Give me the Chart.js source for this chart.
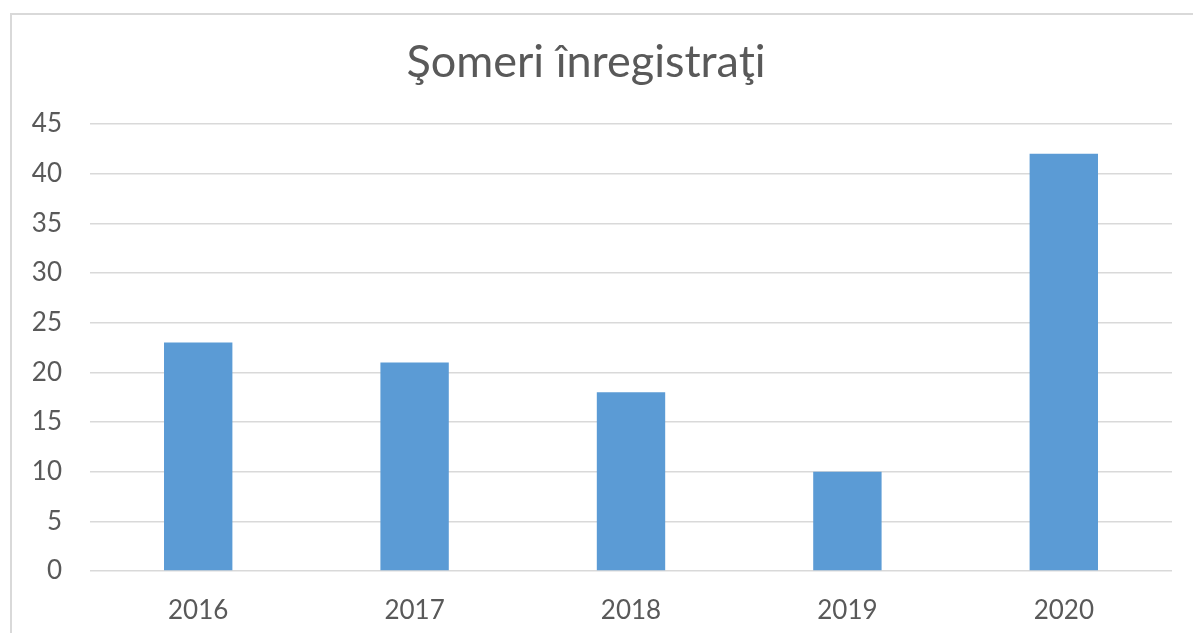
<!DOCTYPE html>
<html lang="ro">
<head>
    <meta charset="UTF-8">
    <title>Şomeri înregistraţi</title>
    <script src="https://cdn.jsdelivr.net/npm/chart.js@4.4.1/dist/chart.umd.min.js"></script>
    <style>
        html, body {
            margin: 0;
            padding: 0;
            width: 1193px;
            height: 633px;
            overflow: hidden;
            background: #ffffff;
        }
        .frame {
            position: absolute;
            left: 10px;
            top: 13px;
            width: 1200px;
            height: 640px;
            border: 2px solid #d9d9d9;
        }
        .chart-box {
            position: absolute;
            left: 0;
            top: 0;
            width: 1193px;
            height: 633px;
        }
    </style>
</head>
<body>
    <div class="frame"></div>
    <div class="chart-box">
        <canvas id="barChart"></canvas>
    </div>

    <script>
        // data
        const years = ['2016', '2017', '2018', '2019', '2020'];
        const unemployed = [23, 21, 18, 10, 42];
        const yTicks = [0, 5, 10, 15, 20, 25, 30, 35, 40, 45];

        const textColor = '#595959';
        const gridColor = '#d9d9d9';
        const fontFamily = 'Lato, "Open Sans", sans-serif';

        new Chart(document.getElementById('barChart'), {
            type: 'bar',
            data: {
                labels: years,
                datasets: [{
                    label: 'Şomeri înregistraţi',
                    data: unemployed,
                    backgroundColor: '#5b9bd5',
                    categoryPercentage: 1,
                    barPercentage: 0.316
                }]
            },
            options: {
                responsive: true,
                maintainAspectRatio: false,
                animation: false,
                layout: {
                    padding: { top: 0, right: 21, bottom: 0, left: 0 }
                },
                plugins: {
                    legend: { display: false },
                    tooltip: { enabled: false },
                    title: {
                        display: true,
                        text: 'Şomeri înregistraţi',
                        color: textColor,
                        font: { family: fontFamily, size: 45, weight: 'normal' },
                        padding: { top: 35, bottom: 35 }
                    }
                },
                scales: {
                    x: {
                        grid: { display: false },
                        border: { display: false },
                        ticks: {
                            color: textColor,
                            font: { family: fontFamily, size: 26 },
                            padding: 16
                        },
                        afterFit: function (scale) { scale.height = 62; }
                    },
                    y: {
                        min: 0,
                        max: 45,
                        afterBuildTicks: function (scale) {
                            scale.ticks = yTicks.map(function (v) { return { value: v }; });
                        },
                        grid: {
                            color: gridColor,
                            lineWidth: 1.5,
                            drawTicks: false
                        },
                        border: { display: false },
                        ticks: {
                            color: textColor,
                            font: { family: fontFamily, size: 26 },
                            padding: 28
                        },
                        afterFit: function (scale) { scale.width = 90; }
                    }
                }
            }
        });
    </script>
</body>
</html>
